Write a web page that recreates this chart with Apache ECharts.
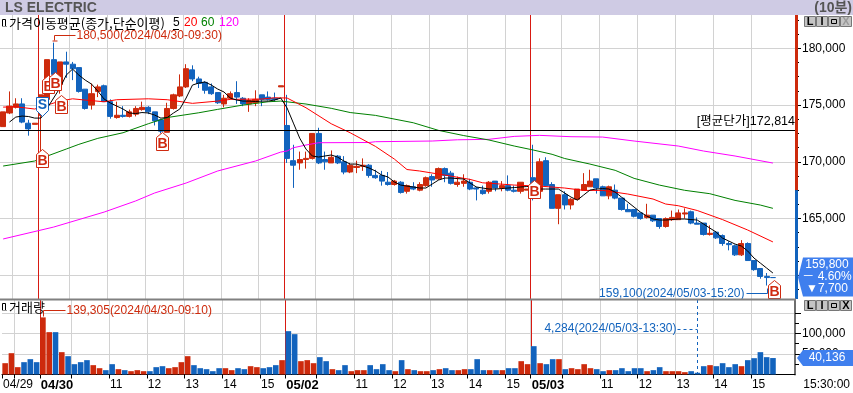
<!DOCTYPE html>
<html><head><meta charset="utf-8">
<style>html,body{margin:0;padding:0;background:#fff}#c{width:853px;height:393px}</style>
<script src="https://cdn.jsdelivr.net/npm/echarts@6/dist/echarts.min.js"></script>
</head><body><div id="c"></div>
<script>
const opens=[173100,174300,174800,175100,173400,173300,174100,175500,179000,176800,
178800,178600,178300,176400,175000,176200,176700,175300,173900,174100,
174000,174200,174600,174800,174400,173700,172600,174700,175800,176600,
178100,177300,177000,176600,176100,175100,175600,176100,175600,175100,
175200,175900,175700,175600,176600,
173200,170100,169900,170200,170300,172500,170200,169900,170500,170000,
169100,169500,169600,169700,168800,168800,168200,168000,168200,167400,
167800,167500,167900,168700,168500,169400,169000,168000,168100,168200,
167700,167500,167400,168300,167700,167900,167500,167400,167500,
168600,167400,170100,168000,165900,167100,166200,166700,167500,167800,
168500,167800,167000,167500,166800,165800,165800,165500,165100,165300,
165000,164300,164900,164900,165400,165600,164600,164600,163600,163800,
163500,162800,162600,161800,162800,161300,160600,159900,159800];
const closes=[174400,174900,175100,173500,172900,173400,175900,179000,177700,178800,
178600,178200,176200,174700,176000,176600,175300,174000,174100,174000,
174400,174700,174800,174400,173600,172700,174700,175900,176600,178200,
177300,176900,176300,176000,175200,175600,176000,175700,175100,175400,
175500,175500,175500,175500,176700,
170300,169700,170200,170300,172500,169900,170000,170400,169900,169100,
169700,169600,169700,168800,168600,168300,168000,168300,167300,167900,
167600,168000,168600,168400,169400,168800,168100,168200,168300,167600,
167600,167200,168200,167700,167900,167500,167400,168200,167600,
167500,170000,167900,165900,167100,166200,166700,167600,168000,168300,
167700,167000,167800,166800,165800,165600,165200,165000,165300,164800,
164300,165000,165100,165500,165500,164600,164500,163600,163700,163300,
162800,162700,161800,162800,161300,160500,159900,159800,159800];
const lows=[173100,174200,174700,173400,172300,173300,169700,175500,177200,176000,
177400,177200,176100,174600,174600,175700,175300,173800,173800,173900,
173900,174000,174500,174200,173200,172500,172600,174600,175700,176500,
177100,176500,176000,175900,175100,174800,175500,175100,174900,174400,
174900,174900,175400,175300,176600,
169900,167700,169300,169400,170200,169800,169300,169900,169800,168900,
169000,169000,169200,168600,168500,167900,167900,167900,167200,167200,
167500,167400,167800,167800,168400,168200,168000,167800,167800,167500,
166600,167100,167200,167400,167400,167400,167300,167200,167500,
166600,167400,167900,165900,164500,165800,165800,166600,167500,167800,
167200,167000,166700,166700,165700,165600,165100,164900,165000,164700,
164100,164200,164800,164900,165000,164500,164500,163500,163500,163200,
162600,162200,161700,161700,161300,160400,159700,159100,159800];
const highs=[174400,176200,175600,175600,173700,173400,175900,179000,180500,178800,
179700,178800,178300,176400,176900,176800,176800,175500,175300,174900,
174600,174900,175300,174900,174400,173800,175200,176000,177700,178600,
178500,177500,177100,176900,176100,175900,176200,177100,175700,175600,
176300,175900,176200,176100,176700,
175900,171500,170900,170900,172500,173000,170900,171000,170600,170500,
169900,170100,170300,169800,169300,169200,169100,168400,168300,168000,
168200,168200,168700,168900,169500,169500,169200,168700,168900,168500,
167800,167900,168300,168300,168300,168800,167900,168200,167600,
171500,170300,170400,168200,167100,167400,166800,167600,169000,169300,
168500,167900,167900,168000,166800,166300,165800,165500,166300,165300,
165000,165100,165700,165800,165900,165700,165100,164600,164400,163900,
163600,163000,162700,163100,162900,161300,160600,160200,159800];
const volumes=[27600,52000,17900,30100,37400,30100,139305,103300,103300,54500,
44700,25200,30100,35000,22800,15400,10600,25200,13000,10600,
8100,10600,8100,8100,17900,20300,15400,17900,30100,44700,
22800,15400,13000,8100,15400,15400,10600,15400,13000,20300,
17900,15400,17900,22800,35000,
105700,98400,32500,35000,27600,42300,32500,13000,10600,22800,
8100,10600,10600,22800,13000,25200,10600,8100,35000,13000,
10600,8100,8100,10600,13000,15400,10600,10600,13000,13000,
37400,10600,10600,10600,10600,15400,15400,32500,25200,
69100,27600,25200,37400,37400,13000,15400,13000,25200,15400,
13000,8100,10600,10600,15400,8100,15400,15400,8100,10600,
17900,8100,8100,8100,5700,8100,4284,20300,22800,20300,
27600,17900,25200,20300,35000,39800,54500,42300,40136];
const ma5=[null,173500,173940,174030,173990,173850,173850,174740,175620,176500,
177640,178170,177640,177200,176850,176230,175530,175180,174910,174650,
174300,174250,174340,174300,174120,173850,173900,174300,174650,175620,
176760,176940,177030,176760,176410,176150,175620,175440,175350,175350,
175310,175350,175350,175440,175620,
174740,173410,172090,171120,170510,170420,170510,170600,170420,170070,
169800,169800,169630,169450,169190,168830,168660,168220,167950,167860,
167780,167690,167690,168040,168390,168570,168570,168520,168480,168130,
167780,167690,167600,167600,167640,167690,167730,167780,167820,
167860,167600,167600,167600,167600,167250,166890,166630,167070,167510,
167600,167640,167600,167330,166890,166450,166010,165570,165220,164960,
164870,164870,164910,164960,164960,164910,164870,164520,164160,163810,
163280,163020,162750,162580,162140,161520,161080,160640,160200];
const ma20=[[0,174820],[2,174850],[5,174650],[9,175350],[11,175550],[13,175440],[16,175290],[18,175470],[23,175550],[26,175470],[30,175150],[34,175350],[36,175500],[41,175530],[43,175640],[45,175620],[48,174760],[52,173350],[55,172560],[59,171360],[62,170240],[64,169320],[66,169190],[70,168830],[74,168450],[76,168150],[81,167950],[85,167860],[89,167690],[92,167480],[95,167480],[99,167160],[103,166720],[105,166280],[107,166130],[110,165710],[114,164910],[118,163990],[122,162940]];
const ma60=[[0,169626],[5,170070],[7,170507],[10,171124],[12,171538],[15,172066],[19,172560],[23,173352],[26,173900],[31,174320],[34,174620],[38,175000],[42,175290],[44,175350],[48,175090],[52,174710],[55,174340],[59,174090],[65,173440],[69,172770],[73,172310],[77,171920],[81,171390],[84,171040],[87,170660],[89,170290],[93,169800],[97,169250],[100,168540],[104,167950],[108,167490],[112,167190],[116,166600],[120,166190],[122,165900]];
const ma120=[[0,163200],[8,164250],[16,165570],[21,166550],[24,167250],[29,168130],[34,169190],[40,170070],[44,170860],[45,170950],[46,171240],[48,171480],[50,171680],[58,171700],[59,171770],[68,171830],[72,171940],[77,171980],[81,172240],[85,172330],[90,172210],[95,172180],[100,171830],[107,171390],[111,170950],[116,170510],[122,169890]];
const avgPrice=172814, prevClose=167500, lastPrice=159800, lastVolume=40136;
const priceTicks=[160000,165000,170000,175000,180000];
const priceMinor=[158750,161250,162500,163750,166250,167500,168750,171250,172500,173750,176250,177500,178750,181250,182500];
const volTicks=[50000,100000,150000], volLabels=[50000,100000], volMinor=[25000,75000,125000];
const hourEdges=[2,6,11,17,23,29,35,41,45,50,56,62,68,74,80,84,89,95,101,107,113,119];
const dayEdges=[6,45,84];
const tickIdx=[0,6,17,23,29,35,41,45,56,62,68,74,80,84,95,101,107,113,119];
const tickTxt=['04/29','04/30','11','12','13','14','15','05/02','11','12','13','14','15','05/03','11','12','13','14','15'];
const boldTicks=['04/30','05/02','05/03'];
const sigIdx=[6,6,7,8,9,25,84,122], sigPrice=[170330,174900,176850,177100,175090,171830,167600,158790], sigKind=['B','S','B','B','B','B','B','B'];
const lastVolRedOverride=[5];

const RED='#cd2a0c',BLUE='#1263bd',GRID='#d2d2d2',CALL='#3f7fee';
const NARROW='"Liberation Sans","Noto Sans CJK KR",sans-serif';
const KR='"Noto Sans CJK KR",sans-serif';
const n=126;
const cats=Array.from({length:n},(_,i)=>String(i));
const edgeCats=Array.from({length:n+1},(_,i)=>{const k=tickIdx.indexOf(i);return k>=0?tickTxt[k]:'';});
const candles=opens.map((o,i)=>[o,closes[i],lows[i],highs[i]]);
const fmt=v=>v.toString().replace(/\B(?=(\d{3})+$)/g,',');

function seriesLine(name,data,color){return {name,type:'line',data,xAxisIndex:0,yAxisIndex:0,symbol:'none',connectNulls:true,silent:true,lineStyle:{color,width:1},z:4};}
function dayLines(xi,yi){return {type:'custom',xAxisIndex:xi,yAxisIndex:yi,silent:true,z:3,data:dayEdges.map(d=>[d,0]),encode:{x:0,y:1},
 renderItem(p,api){const b=api.size([1,0])[0],x=Math.round(api.coord([api.value(0),0])[0]-b/2)+.5,c=p.coordSys;
  return {type:'line',shape:{x1:x,y1:c.y,x2:x,y2:c.y+c.height},style:{stroke:'#d81a12',lineWidth:1}};}};}

const option={animation:false,backgroundColor:'#fff',
 grid:[{left:-1,top:15,width:796,height:284},{left:-1,top:300,width:796,height:74.5}],
 xAxis:[
  {type:'category',gridIndex:0,data:cats,boundaryGap:true,position:'bottom',axisLine:{show:false},axisTick:{show:false},axisLabel:{show:false},
   splitLine:{show:true,interval:i=>hourEdges.includes(i),lineStyle:{color:GRID,width:1}}},
  {type:'category',gridIndex:1,data:cats,boundaryGap:true,position:'bottom',axisLine:{show:false},axisTick:{show:false},axisLabel:{show:false},
   splitLine:{show:true,interval:i=>hourEdges.includes(i),lineStyle:{color:GRID,width:1}}},
  {type:'category',gridIndex:1,data:edgeCats,boundaryGap:false,position:'bottom',
   axisLine:{show:true,lineStyle:{color:'#000',width:1}},
   axisTick:{show:true,length:4,lineStyle:{color:'#000'},interval:i=>i===0||hourEdges.includes(i)},
   splitLine:{show:false},
   axisLabel:{show:true,interval:(i,v)=>v!=='',align:'left',margin:4,padding:[0,0,0,1],
     formatter:v=>boldTicks.includes(v)?'{b|'+v+'}':'{n|'+v+'}',
     rich:{b:{fontFamily:NARROW,fontSize:13,fontWeight:'bold',color:'#000'},n:{fontFamily:NARROW,fontSize:12,color:'#000'}}}}
 ],
 yAxis:[
  {type:'value',gridIndex:0,position:'right',min:157912,max:182934,axisLine:{show:false},
   axisTick:{show:true,length:6,customValues:priceTicks,lineStyle:{color:'#000'}},
   axisLabel:{show:true,customValues:priceTicks,margin:7,align:'left',color:'#000',fontFamily:NARROW,fontSize:12,formatter:fmt},
   splitLine:{show:true,lineStyle:{color:GRID,width:1}}},
  {type:'value',gridIndex:0,position:'right',min:157912,max:182934,axisLine:{show:false},
   axisTick:{show:true,length:4,customValues:priceMinor,lineStyle:{color:'#000'}},axisLabel:{show:false},splitLine:{show:false}},
  {type:'value',gridIndex:1,position:'right',min:0,max:181700,axisLine:{show:true,lineStyle:{color:'#6e6e6e',width:2}},
   axisTick:{show:true,length:6,customValues:volTicks,lineStyle:{color:'#000'}},
   axisLabel:{show:true,customValues:volLabels,margin:7,align:'left',color:'#000',fontFamily:NARROW,fontSize:12,formatter:fmt},
   splitLine:{show:true,lineStyle:{color:GRID,width:1}}},
  {type:'value',gridIndex:1,position:'right',min:0,max:181700,axisLine:{show:false},
   axisTick:{show:true,length:4,customValues:volMinor,lineStyle:{color:'#000'}},axisLabel:{show:false},splitLine:{show:false}}
 ],
 series:[
  dayLines(0,0),dayLines(1,2),
  {name:'price',type:'candlestick',xAxisIndex:0,yAxisIndex:0,data:candles,barWidth:5.6,silent:true,z:3,
   itemStyle:{color:RED,color0:BLUE,borderColor:RED,borderColor0:BLUE,borderColorDoji:BLUE,borderWidth:1},
   markLine:{silent:true,symbol:'none',animation:false,lineStyle:{color:'#000',width:1,type:'solid'},
    label:{show:true,position:'insideEndTop',distance:[0,2],color:'#000',fontFamily:NARROW,fontSize:12.5,formatter:'[평균단가]'+fmt(avgPrice)},
    data:[{yAxis:avgPrice}]}},
  seriesLine('MA120',ma120,'#ff00ff'),seriesLine('MA60',ma60,'#008000'),seriesLine('MA20',ma20,'#ff0000'),seriesLine('MA5',ma5,'#000'),
  {name:'volume',type:'bar',xAxisIndex:1,yAxisIndex:2,data:volumes,barWidth:5.6,silent:true,z:3,
   itemStyle:{color:p=>(closes[p.dataIndex]>opens[p.dataIndex]&&!lastVolRedOverride.includes(p.dataIndex))?RED:BLUE}},
  {type:'custom',xAxisIndex:0,yAxisIndex:0,silent:true,z:6,data:sigIdx.map((d,i)=>[d,sigPrice[i]]),encode:{x:0,y:1},
   renderItem(p,api){const c=api.coord([api.value(0),api.value(1)]),k=sigKind[p.dataIndex],col=k==='B'?'#cf2a10':BLUE;
    const x=Math.round(c[0])+1.5,y=Math.round(c[1])+.5;
    const pts=k==='B'?[[x,y-9],[x+6,y-4],[x+6,y+9],[x-6,y+9],[x-6,y-4]]:[[x-6,y-9],[x+6,y-9],[x+6,y+4],[x,y+10],[x-6,y+4]];
    return {type:'group',children:[
     {type:'polygon',shape:{points:pts},style:{fill:'#fff',stroke:col,lineWidth:1}},
     {type:'text',style:{text:k,x:x,y:k==='B'?y+2.5:y-1,fill:col,align:'center',verticalAlign:'middle',font:'bold 14px "Liberation Sans",sans-serif'}}]};}},
  {type:'custom',xAxisIndex:0,yAxisIndex:0,silent:true,z:7,data:[[125,prevClose]],encode:{x:0,y:1},
   renderItem(p,api){const c=p.coordSys,y=api.coord([0,api.value(1)])[1],x=c.x+c.width;
    return {type:'group',children:[
     {type:'rect',shape:{x:x,y:c.y,width:3,height:y-c.y},style:{fill:RED}},
     {type:'rect',shape:{x:x,y:y,width:3,height:c.y+c.height-y},style:{fill:BLUE}}]};}},
  {type:'custom',xAxisIndex:0,yAxisIndex:0,silent:true,z:6,data:[[8,highs[8]],[121,lows[121]]],encode:{x:0,y:1},
   renderItem(p,api){const c=api.coord([api.value(0),api.value(1)]),x=Math.round(c[0])+.5,y=Math.round(c[1])+.5;
    if(p.dataIndex===0){return {type:'group',children:[
      {type:'polyline',shape:{points:[[x+21,y-8],[x,y-8],[x,y-3]]},style:{stroke:RED,lineWidth:1,fill:null}},
      {type:'line',shape:{x1:x-2,y1:y-2.5,x2:x+3,y2:y-2.5},style:{stroke:RED,lineWidth:1}},
      {type:'text',style:{text:'180,500(2024/04/30-09:30)',x:x+22,y:y-8,fill:RED,verticalAlign:'middle',align:'left',font:'12px '+NARROW}}]};}
    return {type:'group',children:[
      {type:'polyline',shape:{points:[[x-21,y+7],[x,y+7],[x,y+2]]},style:{stroke:BLUE,lineWidth:1,fill:null}},
      {type:'text',style:{text:'159,100(2024/05/03-15:20)',x:x-23,y:y+7,fill:BLUE,verticalAlign:'middle',align:'right',font:'12px '+NARROW}}]};}},
  {type:'custom',xAxisIndex:1,yAxisIndex:2,silent:true,z:6,data:[[6,volumes[6]],[110,volumes[110]]],encode:{x:0,y:1},
   renderItem(p,api){const c=api.coord([api.value(0),api.value(1)]),x=Math.round(c[0])+.5,y=Math.round(c[1])+.5,s=p.coordSys;
    if(p.dataIndex===0){return {type:'group',children:[
      {type:'polyline',shape:{points:[[x+22,s.y+10.5],[x,s.y+10.5],[x,y-1]]},style:{stroke:RED,lineWidth:1,fill:null}},
      {type:'text',style:{text:'139,305(2024/04/30-09:10)',x:x+23,y:s.y+10.5,fill:RED,verticalAlign:'middle',align:'left',font:'12px '+NARROW}}]};}
    return {type:'group',children:[
      {type:'line',shape:{x1:x,y1:s.y,x2:x,y2:y},style:{stroke:BLUE,lineWidth:1,lineDash:[3,3]}},
      {type:'line',shape:{x1:x-20,y1:s.y+29.5,x2:x,y2:s.y+29.5},style:{stroke:BLUE,lineWidth:1,lineDash:[3,3]}},
      {type:'text',style:{text:'4,284(2024/05/03-13:30)',x:x-21,y:s.y+28.5,fill:BLUE,verticalAlign:'middle',align:'right',font:'12px '+NARROW}}]};}},
  {type:'custom',xAxisIndex:0,yAxisIndex:0,silent:true,z:8,data:[[125,lastPrice]],encode:{x:0,y:1},
   renderItem(p,api){const c=p.coordSys,y=api.coord([0,api.value(1)])[1],x=c.x+c.width+3;
    const pts=[[x,y],[x+5,y-20],[853,y-20],[853,y+19],[x+5,y+19]];
    const t=(s,dy)=>({type:'text',style:{text:s,x:x+29,y:y+dy,fill:'#fff',align:'center',verticalAlign:'middle',font:'12px '+NARROW}});
    return {type:'group',children:[{type:'polygon',shape:{points:pts},style:{fill:CALL}},t(fmt(api.value(1)),-13),t('－ 4.60%',-1),t('▼7,700',11)]};}},
  {type:'custom',xAxisIndex:1,yAxisIndex:2,silent:true,z:8,data:[[125,lastVolume]],encode:{x:0,y:1},
   renderItem(p,api){const c=p.coordSys,y=api.coord([0,api.value(1)])[1],x=c.x+c.width+2;
    const pts=[[x,y],[x+6,y-8],[853,y-8],[853,y+8],[x+6,y+8]];
    return {type:'group',children:[{type:'polygon',shape:{points:pts},style:{fill:CALL}},
     {type:'text',style:{text:fmt(api.value(1)),x:x+30,y:y,fill:'#fff',align:'center',verticalAlign:'middle',font:'12px '+NARROW}}]};}}
 ],
 graphic:{elements:[]}
};

function txt(text,x,y,fill,font,align){return {type:'text',silent:true,z:20,style:{text,x,y,fill,font,align:align||'left',verticalAlign:'middle'}};}
function rect(x,y,w,h,fill,stroke){return {type:'rect',silent:true,z:20,shape:{x,y,width:w,height:h},style:{fill,stroke:stroke||null,lineWidth:1}};}
function icon(x,y){return [rect(x+.5,y+.5,3,7,'#fff','#000'),rect(x,y+7,5,1,'#999')];}
function buttons(y,lastDim){const out=[],g=['L','I','□','X'];
 g.forEach((s,i)=>{const x=804+i*12;
  out.push(rect(x+.5,y+.5,11,10,'#c4c4c4','#777'));
  const col=(lastDim&&i===3)?'#9a9a9a':'#000';
  if(s==='□') out.push(rect(x+3.5,y+3.5,5,4,null,col));
  else out.push(txt(s,x+6,y+6,col,'bold 11px "Liberation Sans",sans-serif','center'));});
 return out;}
option.graphic.elements=[
 rect(0,0,853,15,'#cfcbe4'),
 txt('LS ELECTRIC',5,8,'#555','bold 14px "Liberation Sans",sans-serif'),
 txt('(10분)',852,8,'#555','bold 14px "Liberation Sans","Noto Sans CJK KR",sans-serif','right'),
 ...icon(2,19),
 txt('가격이동평균(종가,단순이평)',9,23,'#000','13px '+KR),
 txt('5',173,23,'#000','12px '+NARROW),rect(173,29,6,1,'#000'),
 txt('20',184,23,'#ff0000','12px '+NARROW),
 txt('60',201,23,'#008000','12px '+NARROW),
 txt('120',219,23,'#ff00ff','12px '+NARROW),
 ...icon(2,303),
 txt('거래량',9,307,'#000','13px '+KR),
 rect(0,298.5,796,2,'#808080'),
 ...buttons(16,true),...buttons(300,false),
 txt('15:30:00',850,385,'#000','12px '+NARROW,'right')
];
const chart=echarts.init(document.getElementById('c'),null,{renderer:'canvas'});
chart.setOption(option);
</script></body></html>
